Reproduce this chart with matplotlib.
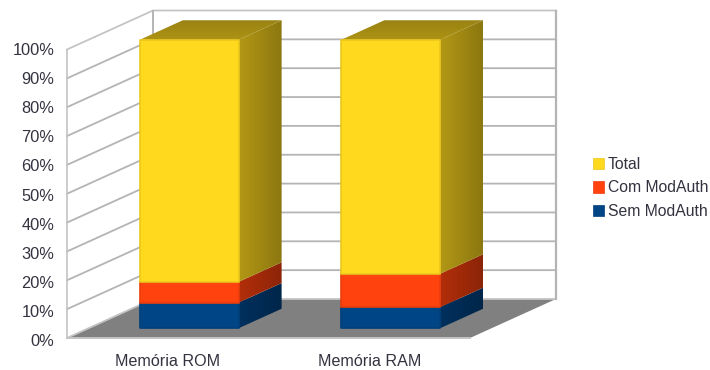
import matplotlib
matplotlib.use('Agg')
import matplotlib.pyplot as plt
import numpy as np
from matplotlib.colors import to_rgb
from matplotlib.patches import Patch, Polygon

plt.rcParams['font.family'] = ['Liberation Sans', 'DejaVu Sans']

categorias = ["Memória ROM", "Memória RAM"]
sem_modauth = [8.9, 7.3]
com_modauth = [7.2, 11.6]
total = [83.9, 81.1]
series = ["Sem ModAuth", "Com ModAuth", "Total"]
cores = ["#004586", "#ff420e", "#ffd91e"]
ticks = list(range(0, 101, 10))

# tamanho de uma categoria e de 1% em pixels, origem do plano da frente
PX_CAT = 201.5
PX_PCT = 2.885
X0, Y0 = 67, 32
# vetor de profundidade do grafico, em unidades dos dados
DX = 86 / PX_CAT
DY = 39 / PX_PCT
LARG = 0.49
Z0, Z1 = 0.25, 0.75
TEXTO = "#333340"
GRADE = "#b4b4b4"


def proj(x, y, z):
    return (x + z * DX, y + z * DY)


def face(ax, pts, inicio, fim, vertical=False):
    # poligono preenchido com gradiente, usado nas faces laterais e no topo
    pts = np.array(pts)
    cores_g = np.linspace(inicio, fim, 64).reshape(1, 64, 3)
    if vertical:
        cores_g = cores_g.transpose(1, 0, 2)
    extent = (pts[:, 0].min(), pts[:, 0].max(), pts[:, 1].min(), pts[:, 1].max())
    im = ax.imshow(cores_g, extent=extent, aspect='auto', origin='lower', zorder=4, interpolation='bilinear')
    im.set_clip_path(Polygon(pts, closed=True, transform=ax.transData))


def barra(ax, x, base, topo, cor, com_topo):
    cor = np.array(to_rgb(cor))
    x0, x1 = x - LARG / 2, x + LARG / 2
    face(ax, [proj(x1, base, Z0), proj(x1, base, Z1), proj(x1, topo, Z1), proj(x1, topo, Z0)], cor * 0.7, cor * 0.55)
    if com_topo:
        face(ax, [proj(x0, topo, Z0), proj(x1, topo, Z0), proj(x1, topo, Z1), proj(x0, topo, Z1)], cor * 0.68, cor * 0.6, vertical=True)
    ax.add_patch(Polygon([proj(x0, base, Z0), proj(x1, base, Z0), proj(x1, topo, Z0), proj(x0, topo, Z0)],
                         closed=True, facecolor=cor, edgecolor=cor * 0.92, linewidth=1.2, joinstyle='round', zorder=5))


def main():
    fig = plt.figure(figsize=(7.1, 3.7), dpi=100)
    ax = fig.add_axes([0, 0, 1, 1])
    xlim = (-X0 / PX_CAT, (710 - X0) / PX_CAT)
    ylim = (-Y0 / PX_PCT, (370 - Y0) / PX_PCT)
    n = len(categorias)

    # parede esquerda, chao e grade
    ax.add_patch(Polygon([proj(0, 0, 0), proj(0, 0, 1), proj(n, 0, 1), proj(n, 0, 0)],
                         closed=True, facecolor="#808080", edgecolor="none", zorder=1))
    for t in ticks:
        cor = GRADE if 0 < t < 100 else "#c4c4c4"
        xs, ys = zip(proj(0, t, 0), proj(0, t, 1), proj(n, t, 1))
        ax.plot(xs, ys, color=cor, linewidth=1.3, zorder=2, solid_joinstyle='miter')
        ax.text(-0.063, t * 1.01 - 1.3, f"{t}%", ha='right', va='center', fontsize=11.8, color=TEXTO)
    ax.plot([0, 0], [0, 100], color="#c4c4c4", linewidth=1.2, zorder=2)
    ax.plot(*zip(proj(0, 0, 1), proj(0, 100, 1)), color=GRADE, linewidth=1.4, zorder=2)
    ax.plot(*zip(proj(n, 0, 1), proj(n, 100, 1)), color=GRADE, linewidth=1.6, zorder=2)
    ax.plot([0, n], [0, 0], color="#c4c4c4", linewidth=1.4, zorder=2)

    # barras empilhadas
    for i, nome in enumerate(categorias):
        x = i + 0.5
        base = 0
        for j, val in enumerate([sem_modauth[i], com_modauth[i], total[i]]):
            barra(ax, x, base, base + val, cores[j], j == 2)
            base += val
        ax.text(x, -8, nome, ha='center', va='center', fontsize=11.6, color=TEXTO)

    # legenda com Total em cima
    handles = [Patch(facecolor=cores[j], edgecolor=np.array(to_rgb(cores[j])) * 0.92, linewidth=0.5, label=series[j]) for j in (2, 1, 0)]
    fig.legend(handles=handles, loc='center left', bbox_to_anchor=(585 / 710, 1 - 188 / 370), frameon=False,
               fontsize=11.3, labelcolor=TEXTO, handlelength=0.72, handleheight=0.72,
               handletextpad=0.22, labelspacing=0.52, borderpad=0, borderaxespad=0.5)

    ax.set_xlim(xlim)
    ax.set_ylim(ylim)
    ax.axis('off')
    fig.savefig('out.png', dpi=100)


if __name__ == "__main__":
    main()
